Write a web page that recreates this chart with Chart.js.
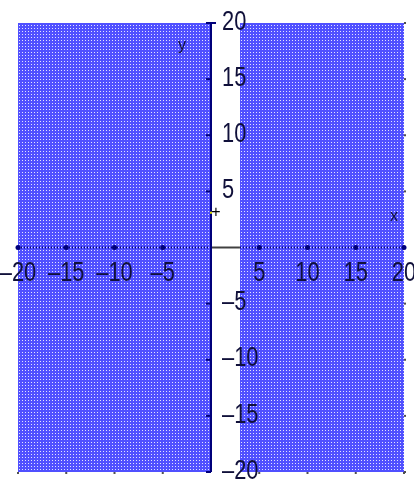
<!DOCTYPE html>
<html>
<head>
<meta charset="utf-8">
<script src="https://cdn.jsdelivr.net/npm/chart.js@4"></script>
<style>
  html, body { margin: 0; padding: 0; background: #fff; }
  #wrap { width: 414px; height: 482px; position: relative; }
</style>
</head>
<body>
<div id="wrap"><canvas id="myChart"></canvas></div>
<script>
// x < 0 or x > 3, plotted on a -20..20 window
const xRange = [-20, 20];
const yRange = [-20, 20];
const shadedRegions = [[-20, 0], [3, 20]];
const tickValues = [-20, -15, -10, -5, 5, 10, 15, 20];
const tickLabels = ['\u201320', '\u201315', '\u201310', '\u20135', '5', '10', '15', '20'];
const axisNames = ['x', 'y'];

const navy = '#00007a';
const ink = '#10103a';

// blue fill with a light dot grid
const makePattern = () => {
	const c = document.createElement('canvas');
	c.width = 3;
	c.height = 3;
	const g = c.getContext('2d');
	g.fillStyle = '#5050ff';
	g.fillRect(0, 0, 3, 3);
	g.fillStyle = '#e2e2ff';
	g.fillRect(1, 1, 1, 1);
	return g.createPattern(c, 'repeat');
};
const blueFill = makePattern();

const datasets = shadedRegions.map(r => ({
	data: [{ x: r[0], y: yRange[1] }, { x: r[1], y: yRange[1] }],
	backgroundColor: blueFill,
	borderWidth: 0,
	pointRadius: 0,
	fill: { value: yRange[0] }
}));

const label = (ctx, text, x, y, align, size, sx) => {
	ctx.save();
	ctx.font = size + 'px "Liberation Sans", sans-serif';
	ctx.textAlign = align;
	ctx.textBaseline = 'middle';
	ctx.translate(x, y);
	ctx.scale(sx, 1);
	ctx.fillText(text, 0, 0);
	ctx.restore();
};

const axesPlugin = {
	id: 'centerAxes',
	afterDatasetsDraw(chart) {
		const { ctx, scales: { x, y } } = chart;
		const x0 = x.getPixelForValue(0);
		const y0 = y.getPixelForValue(0);
		const top = y.getPixelForValue(yRange[1]);
		const bottom = y.getPixelForValue(yRange[0]);
		const right = x.getPixelForValue(xRange[1]);

		ctx.save();
		// x axis: dotted over the shaded parts, solid grey across the gaps
		ctx.lineWidth = 2;
		ctx.strokeStyle = navy;
		ctx.setLineDash([1, 2]);
		shadedRegions.forEach(r => {
			ctx.beginPath();
			ctx.moveTo(x.getPixelForValue(r[0]), y0);
			ctx.lineTo(x.getPixelForValue(r[1]), y0);
			ctx.stroke();
		});
		ctx.setLineDash([]);
		ctx.strokeStyle = '#404040';
		for (let i = 1; i < shadedRegions.length; i++) {
			ctx.beginPath();
			ctx.moveTo(x.getPixelForValue(shadedRegions[i - 1][1]), y0);
			ctx.lineTo(x.getPixelForValue(shadedRegions[i][0]), y0);
			ctx.stroke();
		}

		// y axis
		ctx.strokeStyle = navy;
		ctx.beginPath();
		ctx.moveTo(x0, top);
		ctx.lineTo(x0, bottom);
		ctx.stroke();

		// tick marks
		ctx.fillStyle = navy;
		tickValues.forEach(v => {
			const px = x.getPixelForValue(v);
			ctx.beginPath();
			ctx.arc(px, y0, 2.5, 0, Math.PI * 2);
			ctx.fill();
			const py = y.getPixelForValue(v);
			ctx.beginPath();
			ctx.moveTo(x0 - 5, py);
			ctx.lineTo(v === yRange[1] ? x0 + 5 : x0, py);
			ctx.stroke();
		});

		// little grey marks on the frame edges
		ctx.fillStyle = '#505050';
		tickValues.forEach(v => {
			ctx.fillRect(x.getPixelForValue(v) - 1, bottom, 2, 2);
			ctx.fillRect(right, y.getPixelForValue(v) - 1, 2, 2);
		});

		// tick labels
		ctx.fillStyle = ink;
		tickValues.forEach((v, i) => {
			label(ctx, tickLabels[i], x.getPixelForValue(v), y0 + 26, 'center', 28, 0.78);
			label(ctx, tickLabels[i], x0 + 11, y.getPixelForValue(v) - 1, 'left', 28, 0.78);
		});

		// axis names
		label(ctx, axisNames[0], right - 10, y0 - 31, 'center', 16, 1);
		label(ctx, axisNames[1], x0 - 29, top + 23, 'center', 16, 1);

		// cursor marker
		ctx.fillStyle = '#000';
		label(ctx, '+', x0 + 5, y.getPixelForValue(3.1), 'center', 16, 1);
		ctx.fillStyle = '#e0e000';
		ctx.fillRect(x0 - 1, y.getPixelForValue(3.1) - 1, 2, 2);
		ctx.restore();
	}
};

const ctx = document.getElementById('myChart').getContext('2d');
let myChart = new Chart(ctx, {
	type: 'line',
	data: { datasets },
	options: {
		responsive: true,
		maintainAspectRatio: false,
		animation: false,
		layout: { padding: { left: 18, top: 23, right: 10, bottom: 10 } },
		plugins: { legend: { display: false }, tooltip: { enabled: false } },
		scales: {
			x: { type: 'linear', min: xRange[0], max: xRange[1], display: false },
			y: { type: 'linear', min: yRange[0], max: yRange[1], display: false }
		}
	},
	plugins: [axesPlugin]
});
</script>
</body>
</html>
